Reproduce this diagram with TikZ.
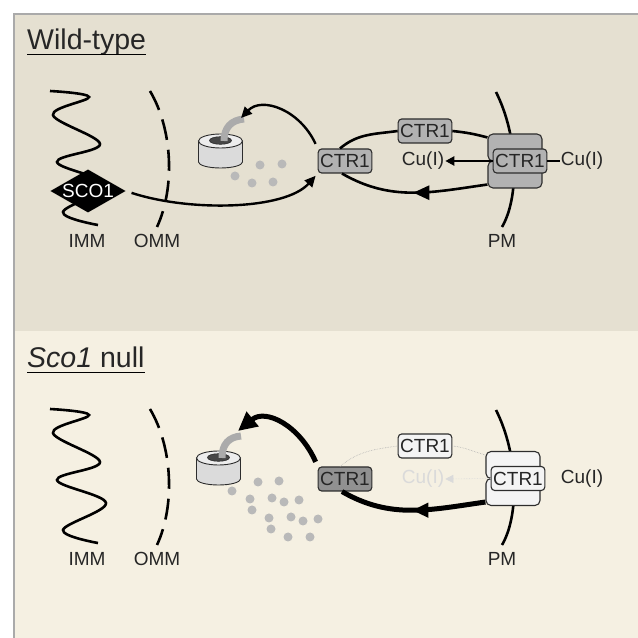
\documentclass[tikz,border=0pt]{standalone}
\usepackage{fontspec}
\setmainfont{Liberation Sans}
\usetikzlibrary{positioning,arrows.meta,shapes.geometric,decorations.markings}
\definecolor{wtback}{RGB}{229,224,209}
\definecolor{nullback}{RGB}{245,240,226}
\definecolor{frameline}{RGB}{170,170,170}
\definecolor{ctrgray}{RGB}{178,178,178}
\definecolor{ctrdark}{RGB}{145,145,145}
\definecolor{ctrpale}{RGB}{244,244,244}
\definecolor{boxline}{RGB}{45,45,45}
\definecolor{copperdot}{RGB}{185,185,185}
\definecolor{fadetext}{RGB}{218,218,218}
\tikzset{
  lbl/.style={font=\fontsize{19}{21}\selectfont, text=black!85, inner sep=1pt},
  ttl/.style={font=\fontsize{28.5}{31}\selectfont, text=black!85, anchor=base west, inner sep=0pt},
  ctr/.style={lbl, draw=boxline, fill=#1, line width=1.1pt, rounded corners=3.5pt,
    inner xsep=2pt, inner ysep=2pt, minimum height=24pt},
  blk/.style={draw=boxline, fill=#1, line width=1.1pt, rounded corners=5pt, inner sep=0pt,
    minimum width=54pt, minimum height=27pt},
  memb/.style={draw=black, line width=2.6pt},
  omm/.style={memb, dash pattern=on 21pt off 10pt},
  flow/.style={-{Triangle[length=11pt,width=10pt]}, line width=2.4pt},
  bigflow/.style={-{Triangle[length=19pt,width=18pt]}, line width=5pt},
  ghost/.style={draw=black!30, line width=0.6pt, densely dotted},
  pipe/.style={draw=black!33, line width=7pt},
  copper/.style={fill=copperdot},
  midarrow/.style={postaction={decorate}, decoration={markings,
    mark=at position 0.5 with {\arrow{Triangle[length=16pt,width=14pt]}}}},
  pore/.pic={
    \filldraw[draw=boxline, fill=black!14, line width=0.9pt] (-22,0) -- (-22,-21)
      arc[start angle=180, end angle=360, x radius=22, y radius=6] -- (22,0) -- cycle;
    \filldraw[draw=boxline, fill=black!7, line width=0.9pt] (0,0) ellipse[x radius=22, y radius=7];
    \filldraw[draw=boxline, fill=black!72, line width=0.6pt] (0,0.5) ellipse[x radius=11, y radius=3.8];
  },
}

\begin{document}
\begin{tikzpicture}[x=1pt, y=1pt, lbl]
  \useasboundingbox (0,0) rectangle (638,638);
  \fill[wtback] (13,307) rectangle (638,625);
  \fill[nullback] (13,0) rectangle (638,307);
  \draw[frameline, line width=1.6pt] (13.8,0) -- (13.8,624.2) -- (638,624.2);

  % Wild-type
  \node[ttl] (wt) at (27,588) {Wild-type};
  \draw[line width=1.3pt] ([yshift=-4.5pt]wt.base west) -- ([yshift=-4.5pt]wt.base east);

  \draw[memb] plot[smooth, tension=0.6] coordinates
    {(50,547) (89,541) (53,523) (100,494) (57,476) (106,453) (63,426) (98,413)};
  \draw[omm] (150,547) .. controls (173,508) and (175,450) .. (157,411);
  \draw[memb] (496,546) .. controls (519,500) and (519,440) .. (502,411);

  \node[diamond, aspect=1.75, fill=black, text=white, inner sep=0pt,
    minimum width=75pt, minimum height=43pt] (sco) at (88,447) {SCO1};
  \node (imm1) at (87,397) {IMM};
  \node (omm1) at (157,397) {OMM};
  \node (pm1) at (502,397) {PM};

  \pic at (220.5,497) {pore};
  \draw[pipe] (224,497) .. controls (224,510) and (231,518) .. (244,519);
  \coordinate (in1) at (241,520);
  \fill[copper] (260,473) circle[radius=4.5];
  \fill[copper] (282,474) circle[radius=4.5];
  \fill[copper] (235,462) circle[radius=4.5];
  \fill[copper] (252,455) circle[radius=4.5];
  \fill[copper] (273,456) circle[radius=4.5];

  \node[ctr=ctrgray] (ci1) at (345,477) {CTR1};
  \node[ctr=ctrgray] (ct1) at (425,507) {CTR1};
  \node[blk=ctrgray] (bt1) at (515,490.5) {};
  \node[blk=ctrgray] (bb1) at (515,463.5) {};
  \node[ctr=ctrgray] (ib1) at (520,477) {CTR1};
  \node (cul1) at (423,477) {Cu(I)};
  \node (cur1) at (582,477) {Cu(I)};

  \draw[flow, shorten <=6pt, shorten >=3pt] (sco.east) .. controls (190,426) and (285,428) .. (ci1.south west);
  \draw[flow, shorten <=5pt] (ci1.north west) .. controls (300,528) and (262,542) .. (in1);
  \draw[memb] ([xshift=-5pt]ci1.north) to[out=40,in=188] (ct1.west);
  \draw[memb] (ct1.east) to[out=-6,in=165] (bt1.160);
  \draw[memb, midarrow] (bb1.200) to[out=188,in=-30] ([xshift=-3pt]ci1.south);
  \draw[flow, -{Triangle[length=9pt,width=9pt]}] (ib1.west) -- (cul1.east);
  \draw[line width=2.4pt] (ib1.east) -- (cur1.west);

  % Sco1 null
  \begin{scope}[yshift=-318pt]
    \node[ttl] (sn) at (27,588) {\textit{Sco1} null};
    \draw[line width=1.3pt] ([yshift=-4.5pt]sn.base west) -- ([yshift=-4.5pt]sn.base east);

    \draw[memb] plot[smooth, tension=0.6] coordinates
      {(50,547) (89,541) (53,523) (100,494) (57,476) (106,453) (63,426) (98,413)};
    \draw[omm] (150,547) .. controls (173,508) and (175,450) .. (157,411);
    \draw[memb] (496,546) .. controls (519,500) and (519,440) .. (502,411);

    \node (imm2) at (87,397) {IMM};
    \node (omm2) at (157,397) {OMM};
    \node (pm2) at (502,397) {PM};

    \pic at (218.5,498) {pore};
    \draw[pipe] (222,498) .. controls (222,512) and (229,519) .. (241,520);
    \coordinate (in2) at (238,525);
    \fill[copper] (258,474) circle[radius=4.5];
    \fill[copper] (279,475) circle[radius=4.5];
    \fill[copper] (232,465) circle[radius=4.5];
    \fill[copper] (250,457) circle[radius=4.5];
    \fill[copper] (272,458) circle[radius=4.5];
    \fill[copper] (284,454) circle[radius=4.5];
    \fill[copper] (299,456) circle[radius=4.5];
    \fill[copper] (252,446) circle[radius=4.5];
    \fill[copper] (269,438) circle[radius=4.5];
    \fill[copper] (291,439) circle[radius=4.5];
    \fill[copper] (303,435) circle[radius=4.5];
    \fill[copper] (318,437) circle[radius=4.5];
    \fill[copper] (271,427) circle[radius=4.5];
    \fill[copper] (288,419) circle[radius=4.5];
    \fill[copper] (310,419) circle[radius=4.5];

    \node[ctr=ctrdark] (ci2) at (345,477) {CTR1};
    \node[ctr=ctrpale] (ct2) at (425,510) {CTR1};
    \node[blk=ctrpale] (bt2) at (513,491) {};
    \node[blk=ctrpale] (bb2) at (513,464) {};
    \node[ctr=ctrpale] (ib2) at (518,477.5) {CTR1};
    \node[text=fadetext] (cul2) at (423,477) {Cu(I)};
    \node (cur2) at (582,477) {Cu(I)};

    \draw[bigflow, shorten <=5pt] (ci2.north west) .. controls (300,530) and (266,548) .. (in2);
    \draw[ghost] ([xshift=-5pt]ci2.north) to[out=40,in=188] (ct2.west);
    \draw[ghost] (ct2.east) to[out=-6,in=165] (bt2.160);
    \draw[memb, line width=5pt, midarrow] (bb2.200) to[out=188,in=-30] ([xshift=-3pt]ci2.south);
    \draw[ghost, draw=fadetext, -{Triangle[length=8pt,width=8pt]}] (ib2.west) -- (cul2.east);
  \end{scope}
\end{tikzpicture}
\end{document}
